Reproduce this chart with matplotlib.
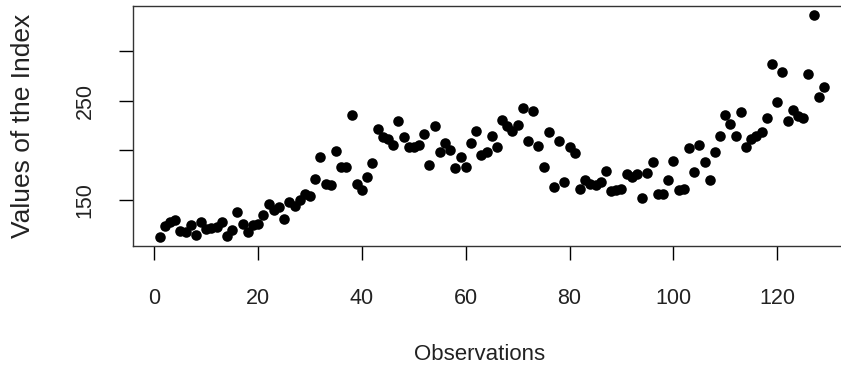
import matplotlib
matplotlib.use("Agg")
import matplotlib.pyplot as plt
import numpy as np

values = [
    112, 123, 127, 129, 118, 117, 124, 114, 127, 120,
    121, 122, 127, 113, 119, 137, 125, 117, 124, 125,
    134, 146, 139, 142, 130, 148, 144, 150, 156, 154,
    171, 193, 166, 165, 199, 183, 183, 236, 166, 160,
    173, 187, 221, 213, 211, 205, 230, 213, 203, 203,
    205, 216, 185, 225, 198, 207, 200, 182, 193, 183,
    207, 219, 195, 198, 214, 203, 231, 224, 219,
    226, 243, 209, 240, 204, 183, 218, 163, 209, 168,
    203, 197, 161, 170, 166, 165, 168, 179, 159, 160,
    161, 176, 173, 176, 152, 177, 188, 156, 156,
    170, 189, 160, 161, 202, 178, 205, 188, 170, 198,
    214, 236, 227, 214, 239, 203, 211, 214, 218, 233,
    287, 249, 279, 230, 241, 235, 233, 277, 337,
    254, 264,
]
obs = np.arange(1, len(values) + 1)

x_ticks = [0, 20, 40, 60, 80, 100, 120]
y_ticks = [150, 200, 250, 300]
y_tick_labels = ["150", "", "250", ""]
x_label = "Observations"
y_label = "Values of the Index"

plt.rcParams['font.family'] = ['Liberation Sans', 'DejaVu Sans']

W, H = 841, 375
fig = plt.figure(figsize=(W / 100, H / 100), dpi=100)
n = len(values)
x0, x1 = 1 - 0.04 * (n - 1), n + 0.04 * (n - 1)
# axes spans 133px to right edge chosen so that one unit ~5.19 px
right_px = 133 + 5.19 * (x1 - x0)
ax = fig.add_axes([133 / W, (H - 246) / H, (right_px - 133) / W, (246 - 6) / H])

ax.plot(obs, values, 'o', color='black', markersize=7.6, markeredgewidth=0)

ax.set_xlim(x0, x1)
vmin, vmax = min(values), max(values)
r = vmax - vmin
ax.set_ylim(vmin - 0.04 * r, vmax + 0.04 * r)

ax.set_xticks(x_ticks)
ax.set_xticklabels([str(t) for t in x_ticks])
ax.set_yticks(y_ticks)
ax.set_yticklabels(y_tick_labels, rotation=90, va='center')

ax.tick_params(axis='both', direction='out', length=10, width=1, labelsize=15.5,
               color='black', labelcolor='#222222')
ax.tick_params(axis='x', pad=20)
ax.tick_params(axis='y', pad=17)
for s in ax.spines.values():
    s.set_linewidth(1)
    s.set_color('#333333')

fig.text(480 / W, 1 - 355 / H, x_label, ha='center', va='center', fontsize=16, color='#222222')
fig.text(23 / W, 1 - 126 / H, y_label, ha='center', va='center', rotation=90, fontsize=19, color='#222222')

fig.savefig("out.png", dpi=100)
